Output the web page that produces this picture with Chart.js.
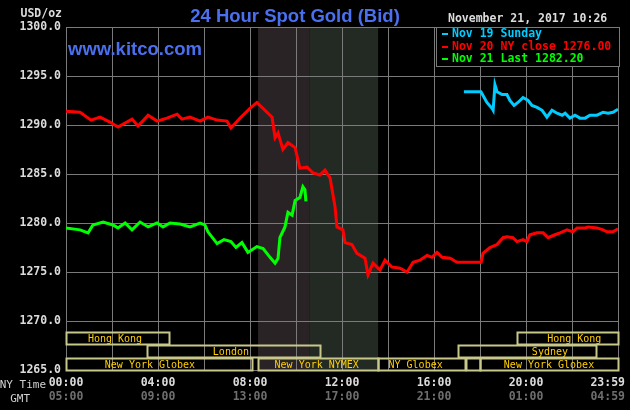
<!DOCTYPE html>
<html>
<head>
<meta charset="utf-8">
<script src="https://cdn.jsdelivr.net/npm/chart.js@4/dist/chart.umd.min.js"></script>
<style>
  html, body { margin: 0; padding: 0; background: #000; }
  #wrap { width: 630px; height: 410px; position: relative; }
</style>
</head>
<body>
<div id="wrap"><canvas id="gold" width="630" height="410"></canvas></div>
<script>
// hours are NY time, 0..24
const redHours = [0, 0.61, 1.09, 1.48, 1.91, 2.26, 2.87, 3.13, 3.57, 3.96, 4.39, 4.83, 5.04, 5.39, 5.83, 6.17, 6.57, 7.0, 7.17, 7.57, 8.0, 8.3, 8.96, 9.09, 9.22, 9.43, 9.65, 9.96, 10.17, 10.48, 10.74, 11.04, 11.26, 11.48, 11.7, 11.78, 12.04, 12.13, 12.43, 12.65, 13.0, 13.13, 13.35, 13.65, 13.87, 14.17, 14.52, 14.83, 15.09, 15.39, 15.7, 15.91, 16.13, 16.35, 16.7, 17.0, 17.26, 18.05, 18.13, 18.43, 18.74, 19.0, 19.17, 19.43, 19.61, 19.87, 20.04, 20.17, 20.48, 20.74, 20.96, 21.26, 21.48, 21.78, 22.04, 22.22, 22.57, 22.7, 23.09, 23.35, 23.52, 23.78, 24.0]
const redPrices = [1291.4, 1291.3, 1290.5, 1290.8, 1290.3, 1289.8, 1290.6, 1289.9, 1291.0, 1290.4, 1290.7, 1291.1, 1290.6, 1290.8, 1290.4, 1290.8, 1290.5, 1290.4, 1289.7, 1290.7, 1291.7, 1292.3, 1290.8, 1288.7, 1289.2, 1287.5, 1288.2, 1287.7, 1285.6, 1285.7, 1285.1, 1284.9, 1285.4, 1284.6, 1281.6, 1279.6, 1279.3, 1278.0, 1277.8, 1276.9, 1276.4, 1274.7, 1275.9, 1275.2, 1276.2, 1275.5, 1275.4, 1275.0, 1276.0, 1276.2, 1276.7, 1276.5, 1277.0, 1276.5, 1276.4, 1276.0, 1276.0, 1276.0, 1276.9, 1277.5, 1277.8, 1278.5, 1278.6, 1278.5, 1278.1, 1278.3, 1278.1, 1278.8, 1279.0, 1279.0, 1278.5, 1278.8, 1279.0, 1279.3, 1279.1, 1279.5, 1279.5, 1279.6, 1279.5, 1279.3, 1279.1, 1279.1, 1279.4]

const greenHours = [0, 0.61, 0.96, 1.17, 1.61, 2.04, 2.26, 2.57, 2.87, 3.22, 3.57, 3.96, 4.22, 4.52, 4.96, 5.39, 5.83, 6.04, 6.17, 6.57, 6.87, 7.17, 7.39, 7.65, 7.91, 8.3, 8.57, 8.87, 9.09, 9.22, 9.3, 9.52, 9.65, 9.83, 9.96, 10.17, 10.3, 10.39, 10.43]
const greenPrices = [1279.5, 1279.3, 1279.0, 1279.8, 1280.1, 1279.8, 1279.5, 1280.0, 1279.3, 1280.1, 1279.6, 1280.0, 1279.6, 1280.0, 1279.9, 1279.6, 1280.0, 1279.8, 1279.1, 1277.9, 1278.3, 1278.1, 1277.5, 1278.0, 1277.0, 1277.6, 1277.4, 1276.5, 1275.9, 1276.4, 1278.5, 1279.6, 1281.1, 1280.8, 1282.3, 1282.6, 1283.7, 1283.4, 1282.2]

const cyanHours = [17.3, 18.04, 18.3, 18.52, 18.57, 18.65, 18.74, 18.96, 19.17, 19.3, 19.48, 19.65, 19.87, 20.09, 20.26, 20.48, 20.7, 20.91, 21.13, 21.35, 21.57, 21.7, 21.91, 22.13, 22.35, 22.57, 22.78, 23.09, 23.35, 23.57, 23.78, 24.0]
const cyanPrices = [1293.4, 1293.4, 1292.3, 1291.7, 1291.5, 1294.1, 1293.4, 1293.1, 1293.1, 1292.5, 1292.0, 1292.3, 1292.8, 1292.5, 1292.0, 1291.8, 1291.5, 1290.8, 1291.5, 1291.2, 1291.0, 1291.2, 1290.7, 1291.0, 1290.7, 1290.7, 1291.0, 1291.0, 1291.3, 1291.2, 1291.3, 1291.6]

const legendLabels = ['Nov 19 Sunday', 'Nov 20 NY close 1276.00', 'Nov 21 Last 1282.20']
const legendColors = ['#00ccff', '#ff0000', '#00ff00']

const nyTickHours = [0, 4, 8, 12, 16, 20, 24]
const nyTickLabels = ['00:00', '04:00', '08:00', '12:00', '16:00', '20:00', '23:59']
const gmtTickLabels = ['05:00', '09:00', '13:00', '17:00', '21:00', '01:00', '04:59']

// COMEX pit hours shading
const shadeFrom = [8.35, 10.6]
const shadeTo = [10.6, 13.57]
const shadeColors = ['#2a2326', '#232a24']

// trading sessions: row 0 = top
const sessionNames = ['Hong Kong', 'Hong Kong', 'London', 'Sydney', 'New York Globex', 'New York NYMEX', 'NY Globex', '', 'New York Globex']
const sessionRow = [0, 0, 1, 1, 2, 2, 2, 2, 2]
const sessionStart = [0, 19.6, 3.52, 17.04, 0, 8.35, 13.57, 13.57 + 3.8, 18.0]
const sessionEnd = [4.48, 24, 11.04, 23.04, 8.09, 13.57, 17.35, 18.0, 24]
const sessionLabelAt = [2.13, 22.1, 7.17, 21.04, 3.65, 10.9, 15.2, 0, 21.0]

const MONO = '"DejaVu Sans Mono", monospace'
const SANS = '"Liberation Sans", Arial, sans-serif'

function toPoints(xs, ys) {
    return xs.map((x, i) => ({ x: x, y: ys[i] }))
}

const backdrop = {
    id: 'backdrop',
    beforeDraw(chart) {
        const ctx = chart.ctx
        const a = chart.chartArea
        const x = chart.scales.x
        ctx.save()
        ctx.fillStyle = '#000'
        ctx.fillRect(0, 0, chart.width, chart.height)
        shadeFrom.forEach((f, i) => {
            const x0 = x.getPixelForValue(f)
            const x1 = x.getPixelForValue(shadeTo[i])
            ctx.fillStyle = shadeColors[i]
            ctx.fillRect(x0, a.top, x1 - x0, a.bottom - a.top)
        })
        ctx.restore()
    }
}

const extras = {
    id: 'extras',
    afterDraw(chart) {
        const ctx = chart.ctx
        const a = chart.chartArea
        const x = chart.scales.x
        ctx.save()

        // sessions
        const rowH = 13
        const base = a.bottom + 1
        ctx.font = '10px ' + MONO
        ctx.textBaseline = 'middle'
        ctx.textAlign = 'center'
        sessionNames.forEach((name, i) => {
            const top = base - (3 - sessionRow[i]) * rowH
            const x0 = x.getPixelForValue(sessionStart[i])
            const x1 = x.getPixelForValue(sessionEnd[i])
            ctx.strokeStyle = '#c8c88a'
            ctx.lineWidth = 2
            ctx.strokeRect(Math.round(x0) + 0.5, top + 0.5, Math.round(x1 - x0), rowH - 1)
            if (name) {
                ctx.fillStyle = '#ffd000'
                ctx.fillText(name, x.getPixelForValue(sessionLabelAt[i]), top + rowH / 2 + 0.5)
            }
        })

        // legend
        const lx = 436, ly = 27, lw = 183, lh = 39
        ctx.fillStyle = '#000'
        ctx.fillRect(lx, ly, lw, lh)
        ctx.strokeStyle = '#7a7a7a'
        ctx.lineWidth = 1
        ctx.strokeRect(lx + 0.5, ly + 0.5, lw, lh)
        ctx.font = 'bold 11.5px ' + MONO
        ctx.textAlign = 'left'
        legendLabels.forEach((t, i) => {
            const yy = 34 + i * 12.7
            ctx.fillStyle = legendColors[i]
            ctx.fillRect(442, Math.round(yy) - 1, 6, 2)
            ctx.fillText(t, 452, yy)
        })

        // x tick labels
        ctx.font = 'bold 11.5px ' + MONO
        nyTickHours.forEach((h, i) => {
            const px = x.getPixelForValue(h)
            const last = i === nyTickHours.length - 1
            ctx.textAlign = last ? 'right' : 'center'
            const tx = last ? px + 7 : px
            ctx.fillStyle = '#dcdcdc'
            ctx.fillText(nyTickLabels[i], tx, 383)
            ctx.fillStyle = '#6e6e6e'
            ctx.fillText(gmtTickLabels[i], tx, 397)
        })
        ctx.font = '11px ' + MONO
        ctx.fillStyle = '#d0d0d0'
        ctx.textAlign = 'right'
        ctx.fillText('NY Time', 46, 385)
        ctx.fillText('GMT', 30, 399)

        // header texts
        ctx.font = 'bold 11.5px ' + MONO
        ctx.textAlign = 'right'
        ctx.fillStyle = '#dcdcdc'
        ctx.fillText('USD/oz', 62, 14)
        ctx.textAlign = 'left'
        ctx.fillText('November 21, 2017 10:26', 448, 19)

        ctx.textBaseline = 'alphabetic'
        ctx.fillStyle = '#4a70f0'
        ctx.font = 'bold 18.5px ' + SANS
        ctx.textAlign = 'center'
        ctx.fillText('24 Hour Spot Gold (Bid)', 295, 22)
        ctx.textAlign = 'left'
        ctx.fillText('www.kitco.com', 68, 55)
        ctx.restore()
    }
}

function lineSet(label, pts, color) {
    return {
        label: label,
        data: pts,
        borderColor: color,
        borderWidth: 3,
        pointRadius: 0,
        tension: 0,
        fill: false
    }
}

new Chart(document.getElementById('gold'), {
    type: 'line',
    data: {
        datasets: [
            lineSet(legendLabels[0], toPoints(cyanHours, cyanPrices), legendColors[0]),
            lineSet(legendLabels[1], toPoints(redHours, redPrices), legendColors[1]),
            lineSet(legendLabels[2], toPoints(greenHours, greenPrices), legendColors[2])
        ]
    },
    options: {
        responsive: false,
        animation: false,
        events: [],
        layout: { padding: { top: 27, right: 12, left: 0, bottom: 0 } },
        plugins: { legend: { display: false }, tooltip: { enabled: false } },
        scales: {
            x: {
                type: 'linear',
                min: 0,
                max: 24,
                ticks: { display: false, stepSize: 2 },
                grid: { color: '#7a7a7a', lineWidth: 1, drawTicks: false },
                border: { color: '#7a7a7a' },
                afterFit: s => { s.height = 40 }
            },
            y: {
                min: 1265,
                max: 1300,
                ticks: {
                    stepSize: 5,
                    color: '#dcdcdc',
                    padding: 5,
                    font: { family: 'DejaVu Sans Mono', size: 11.5, weight: 'bold' },
                    callback: v => v.toFixed(1)
                },
                grid: { color: '#7a7a7a', lineWidth: 1, drawTicks: false },
                border: { color: '#7a7a7a' },
                afterFit: s => { s.width = 66 }
            }
        }
    },
    plugins: [backdrop, extras]
})
</script>
</body>
</html>
